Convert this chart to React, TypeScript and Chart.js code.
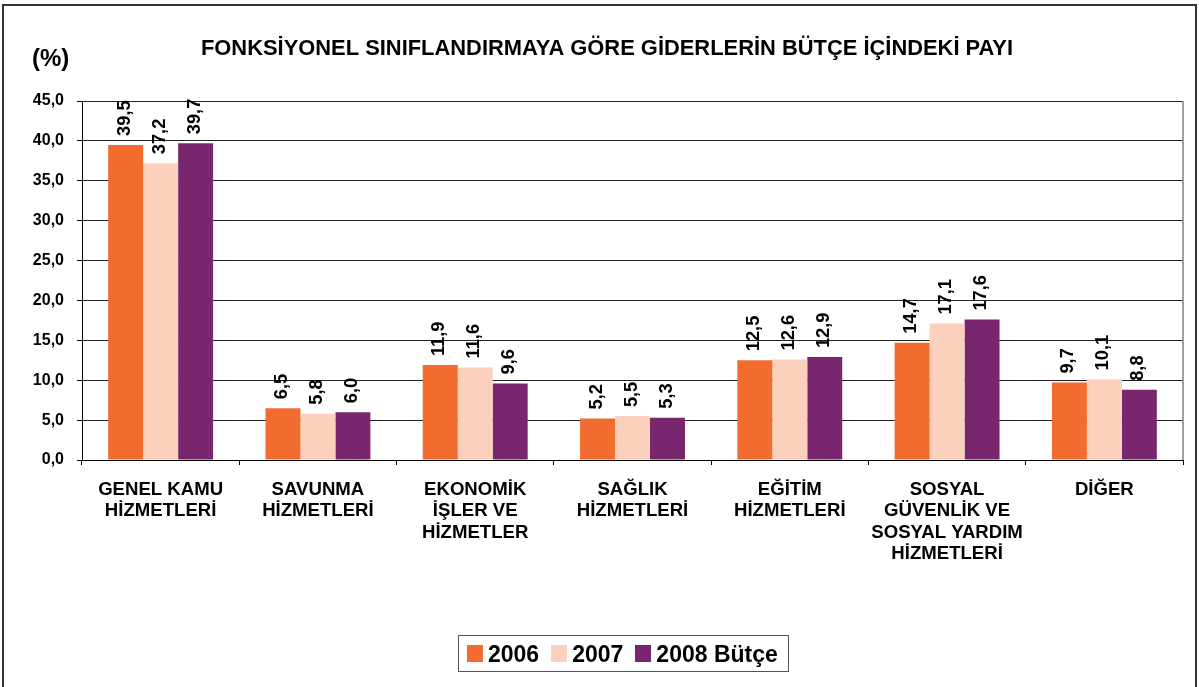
import React, { useEffect, useRef } from 'react';
import { Chart, registerables } from 'chart.js';

Chart.register(...registerables);

const FONT = '"Liberation Sans", Arial, Helvetica, sans-serif';

const chartTitle = 'FONKSİYONEL SINIFLANDIRMAYA GÖRE GİDERLERİN BÜTÇE İÇİNDEKİ PAYI';
const yUnitLabel = '(%)';

const categories: string[][] = [
  ['GENEL KAMU', 'HİZMETLERİ'],
  ['SAVUNMA', 'HİZMETLERİ'],
  ['EKONOMİK', 'İŞLER VE', 'HİZMETLER'],
  ['SAĞLIK', 'HİZMETLERİ'],
  ['EĞİTİM', 'HİZMETLERİ'],
  ['SOSYAL', 'GÜVENLİK VE', 'SOSYAL YARDIM', 'HİZMETLERİ'],
  ['DİĞER'],
];

const values2006 = [39.5, 6.5, 11.9, 5.2, 12.5, 14.7, 9.7];
const values2007 = [37.2, 5.8, 11.6, 5.5, 12.6, 17.1, 10.1];
const values2008 = [39.7, 6.0, 9.6, 5.3, 12.9, 17.6, 8.8];

const seriesNames = ['2006', '2007', '2008 Bütçe'];
const seriesColors = ['#F26C2F', '#FBD1BD', '#78276F'];

const yMin = 0;
const yMax = 45;
const yStep = 5;

const fmt = (v: number) => v.toFixed(1).replace('.', ',');

const decorPlugin = {
  id: 'decor',
  beforeDatasetsDraw(chart: any) {
    const { ctx, chartArea } = chart;
    ctx.save();
    ctx.strokeStyle = '#808080';
    ctx.lineWidth = 1.5;
    ctx.beginPath();
    ctx.moveTo(chartArea.right, chartArea.top);
    ctx.lineTo(chartArea.right, chartArea.bottom);
    ctx.stroke();
    ctx.restore();
  },
  afterDatasetsDraw(chart: any) {
    const ctx = chart.ctx;
    ctx.save();
    ctx.font = `bold 18.3px ${FONT}`;
    ctx.fillStyle = '#000';
    ctx.textAlign = 'left';
    ctx.textBaseline = 'middle';
    chart.data.datasets.forEach((ds: any, i: number) => {
      const meta = chart.getDatasetMeta(i);
      meta.data.forEach((el: any, j: number) => {
        ctx.save();
        ctx.translate(el.x - 1, el.y - 9);
        ctx.rotate(-Math.PI / 2);
        ctx.fillText(fmt(ds.data[j]), 0, 0);
        ctx.restore();
      });
    });
    ctx.restore();
  },
  afterDraw(chart: any) {
    const ctx = chart.ctx;
    ctx.save();
    ctx.fillStyle = '#000';
    ctx.textBaseline = 'alphabetic';
    ctx.font = `bold 21.9px ${FONT}`;
    ctx.textAlign = 'center';
    ctx.fillText(chartTitle, 607, 55);
    ctx.font = `bold 24px ${FONT}`;
    ctx.textAlign = 'left';
    ctx.fillText(yUnitLabel, 32, 66);
    ctx.strokeStyle = '#333';
    ctx.lineWidth = 2;
    ctx.strokeRect(3, 5, 1193, 720);
    ctx.restore();
  },
};

export default function App() {
  const canvasRef = useRef<HTMLCanvasElement | null>(null);

  useEffect(() => {
    if (!canvasRef.current) return;
    const chart = new Chart(canvasRef.current, {
      type: 'bar',
      data: {
        labels: categories,
        datasets: [values2006, values2007, values2008].map((vals, i) => ({
          label: seriesNames[i],
          data: vals,
          backgroundColor: seriesColors[i],
          borderWidth: 0,
          categoryPercentage: 0.667,
          barPercentage: 1.0,
        })),
      },
      options: {
        animation: false,
        responsive: true,
        maintainAspectRatio: false,
        layout: { padding: { left: 33, right: 16, top: 101, bottom: 117 } },
        plugins: {
          legend: { display: false },
          title: { display: false },
          tooltip: { enabled: false },
        },
        scales: {
          x: {
            grid: {
              display: true,
              drawOnChartArea: false,
              drawTicks: true,
              tickLength: 5,
              color: '#000',
              offset: true,
            },
            border: { display: true, color: '#000', width: 1 },
            ticks: {
              autoSkip: false,
              maxRotation: 0,
              minRotation: 0,
              padding: 14,
              color: '#000',
              font: { family: FONT, size: 18.6, weight: 'bold', lineHeight: 1.156 },
            },
            afterFit: (scale: any) => {
              scale.height = 110;
            },
          },
          y: {
            min: yMin,
            max: yMax,
            grid: {
              color: '#222',
              lineWidth: 1,
              drawTicks: true,
              tickLength: 5,
              tickColor: '#000',
            },
            border: { display: true, color: '#000', width: 1 },
            ticks: {
              stepSize: yStep,
              padding: 13,
              color: '#000',
              font: { family: FONT, size: 16, weight: 'bold' },
              callback: (v: any) => fmt(Number(v)),
            },
            afterFit: (scale: any) => {
              scale.width = 49;
            },
          },
        },
      },
      plugins: [decorPlugin],
    });
    return () => chart.destroy();
  }, []);

  return (
    <div style={{ position: 'absolute', left: 0, top: 0, width: 1199, height: 687, background: '#fff' }}>
      <canvas ref={canvasRef} />
      <div
        style={{
          position: 'absolute',
          left: 458,
          top: 635,
          width: 331,
          height: 37,
          boxSizing: 'border-box',
          border: '1.5px solid #555',
          display: 'flex',
          alignItems: 'center',
          paddingLeft: 8,
          fontFamily: FONT,
          fontWeight: 'bold',
          fontSize: 23,
          color: '#000',
          whiteSpace: 'nowrap',
        }}
      >
        {seriesNames.map((name, i) => (
          <div key={name} style={{ display: 'flex', alignItems: 'center', marginRight: i < seriesNames.length - 1 ? 12 : 0 }}>
            <span style={{ display: 'inline-block', width: 16, height: 17, background: seriesColors[i], marginRight: 5 }} />
            <span style={{ lineHeight: '26px' }}>{name}</span>
          </div>
        ))}
      </div>
    </div>
  );
}
